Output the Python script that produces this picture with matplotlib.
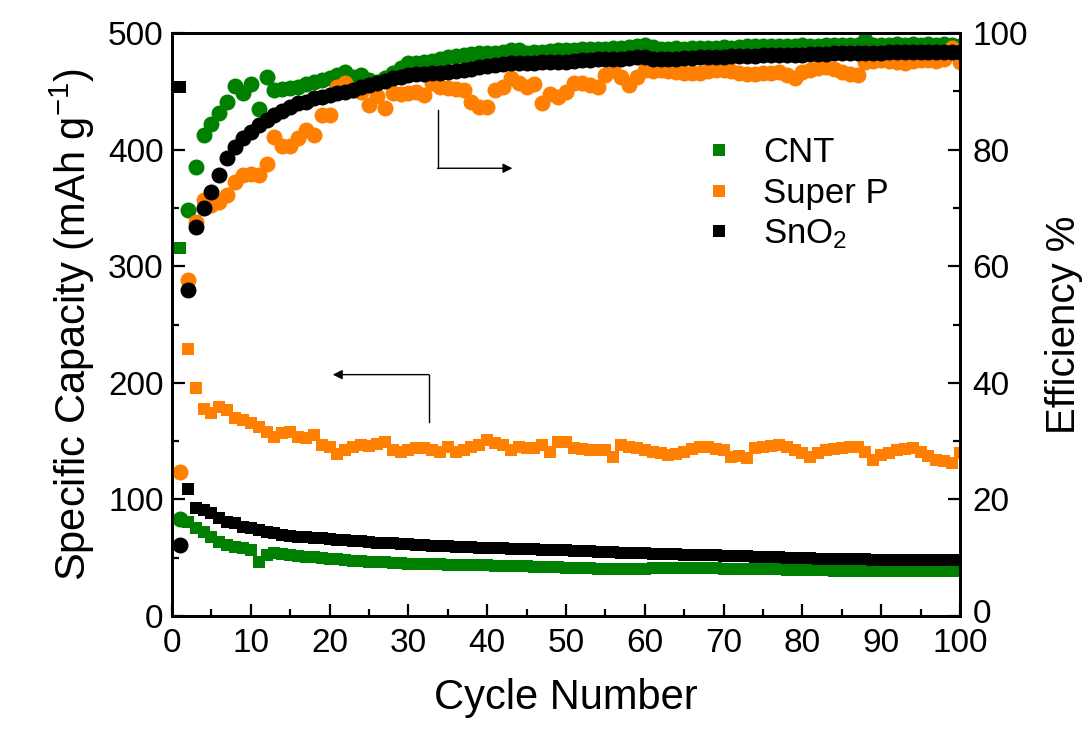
import numpy as np
import matplotlib
matplotlib.use("Agg")
import matplotlib.pyplot as plt
import matplotlib.transforms as mtransforms
from matplotlib import font_manager

# ---------------- data ----------------
cycles = np.arange(1, 101)

cap_cnt = [315.6, 80.6, 75.5, 72.0, 67.8, 63.5, 61.0, 59.0, 58.3, 56.6,
           46.3, 52.3, 54.0, 53.0, 52.3, 51.5, 51.0, 50.6, 50.0, 49.0,
           48.5, 48.0, 47.5, 47.0, 46.5, 46.3, 46.0, 45.5, 45.2, 45.0,
           44.8, 44.6, 44.4, 44.2, 44.0, 43.9, 43.8, 43.7, 43.6, 43.5,
           43.3, 43.1, 42.9, 42.7, 42.5, 42.3, 42.1, 41.9, 41.7, 41.5,
           41.3, 41.1, 40.9, 40.7, 40.5, 40.3, 40.1, 40.0, 40.3, 40.6,
           40.8, 41.0, 41.1, 41.2, 41.2, 41.1, 41.0, 40.9, 40.8, 40.7,
           40.6, 40.5, 40.4, 40.3, 40.2, 40.1, 40.0, 39.8, 39.6, 39.4,
           39.3, 39.2, 39.1, 39.0, 38.9, 38.8, 38.7, 38.6, 38.5, 38.5,
           38.5, 38.5, 38.4, 38.4, 38.4, 38.3, 38.3, 38.3, 38.3, 38.3]

cap_superp = [np.nan, 229.0, 195.5, 177.5, 174.0, 179.0, 176.7, 170.0, 168.0, 165.5,
              162.0, 158.0, 153.5, 157.0, 158.0, 153.5, 152.5, 155.0, 146.6, 145.0,
              139.0, 142.0, 145.0, 146.6, 145.8, 147.5, 149.0, 142.0, 140.6, 142.0,
              144.0, 144.0, 142.0, 140.6, 145.0, 140.6, 142.0, 145.0, 147.0, 151.0,
              148.0, 146.6, 142.0, 145.0, 144.0, 144.0, 146.6, 140.6, 149.0, 149.0,
              144.0, 143.0, 142.0, 142.0, 142.0, 136.0, 146.6, 145.0, 144.0, 142.0,
              141.0, 140.0, 138.0, 139.0, 140.6, 143.0, 145.0, 145.0, 143.0, 142.0,
              136.0, 137.0, 135.5, 144.0, 145.0, 146.0, 146.6, 145.0, 142.0, 140.0,
              136.0, 140.0, 142.0, 143.0, 144.0, 145.0, 145.0, 140.6, 134.0, 138.0,
              140.0, 142.0, 143.0, 144.0, 140.6, 137.0, 134.0, 133.0, 131.0, 140.0]

cap_sno2 = [454.0, 109.0, 92.6, 91.0, 88.0, 84.0, 80.6, 79.8, 76.3, 75.5,
            73.8, 72.0, 71.2, 69.5, 69.0, 68.0, 67.8, 67.0, 66.5, 66.0,
            65.5, 65.0, 64.5, 64.0, 63.5, 63.0, 62.6, 62.2, 61.8, 61.4,
            61.0, 60.7, 60.4, 60.1, 59.8, 59.5, 59.2, 58.9, 58.6, 58.3,
            58.1, 57.9, 57.7, 57.5, 57.3, 57.1, 56.9, 56.7, 56.5, 56.3,
            56.0, 55.7, 55.4, 55.1, 54.8, 54.5, 54.3, 54.1, 53.9, 53.7,
            53.5, 53.3, 53.1, 52.9, 52.7, 52.5, 52.3, 52.1, 51.9, 51.7,
            51.5, 51.3, 51.1, 50.9, 50.7, 50.5, 50.3, 50.1, 49.9, 49.7,
            49.5, 49.3, 49.1, 48.9, 48.8, 48.7, 48.6, 48.5, 48.4, 48.3,
            48.2, 48.1, 48.0, 48.0, 47.9, 47.9, 47.8, 47.8, 47.7, 47.7]

eff_cnt = [16.6, 69.6, 77.0, 82.5, 84.4, 86.3, 88.2, 90.9, 89.7, 91.3,
           87.0, 92.5, 90.2, 90.4, 90.6, 90.8, 91.2, 91.6, 92.0, 92.3,
           92.8, 93.3, 92.5, 92.8, 92.0, 91.6, 92.3, 93.1, 94.0, 94.9,
           94.9, 95.0, 95.2, 95.5, 95.9, 96.0, 96.2, 96.4, 96.6, 96.6,
           96.6, 96.8, 97.1, 97.0, 96.6, 96.7, 96.8, 96.9, 97.0, 97.1,
           97.1, 97.2, 97.2, 97.3, 97.3, 97.4, 97.5, 97.6, 97.7, 97.9,
           97.6, 97.3, 97.3, 97.4, 97.3, 97.4, 97.4, 97.5, 97.5, 97.6,
           97.5, 97.6, 97.7, 97.7, 97.8, 97.7, 97.8, 97.8, 97.8, 97.9,
           97.8, 97.8, 97.9, 97.9, 97.9, 97.9, 98.0, 98.8, 97.9, 98.0,
           98.0, 98.1, 98.0, 98.1, 98.0, 98.1, 98.0, 98.1, 98.0, 97.8]

eff_superp = [24.7, 57.6, 67.5, 71.4, 70.5, 71.0, 72.2, 74.4, 75.6, 75.8,
              75.6, 77.5, 82.2, 80.6, 80.6, 82.0, 83.4, 82.5, 85.9, 85.9,
              90.7, 91.4, 90.3, 89.8, 87.6, 89.2, 87.1, 89.7, 89.5, 89.7,
              89.9, 89.4, 91.4, 90.8, 90.5, 90.4, 90.2, 88.2, 87.3, 87.3,
              90.2, 90.7, 92.3, 91.5, 90.7, 91.2, 88.0, 89.5, 89.0, 89.9,
              91.4, 91.4, 91.0, 90.7, 92.8, 93.7, 92.5, 91.1, 92.5, 93.7,
              93.5, 93.7, 93.4, 93.3, 93.2, 93.2, 93.1, 93.5, 93.7, 93.7,
              93.4, 93.1, 93.0, 93.0, 93.1, 93.2, 93.3, 92.8, 92.3, 93.3,
              93.7, 94.0, 94.2, 93.8, 93.3, 93.0, 92.8, 95.0, 95.2, 95.4,
              95.2, 95.0, 94.9, 95.2, 95.4, 95.4, 95.2, 95.6, 97.4, 95.0]

eff_sno2 = [12.2, 55.9, 66.7, 70.0, 72.7, 75.6, 78.6, 80.4, 82.0, 83.0,
            84.2, 85.1, 85.9, 86.6, 87.3, 88.0, 88.2, 88.9, 89.0, 89.3,
            89.7, 89.9, 90.3, 90.7, 91.0, 91.4, 91.8, 92.2, 92.5, 92.8,
            92.9, 93.0, 93.1, 93.2, 93.3, 93.5, 93.7, 93.9, 94.2, 94.3,
            94.5, 94.7, 94.9, 94.9, 94.9, 94.9, 95.0, 95.0, 95.0, 95.1,
            95.2, 95.3, 95.4, 95.5, 95.5, 95.6, 95.6, 95.7, 95.8, 95.9,
            95.5, 95.5, 95.6, 95.6, 95.7, 95.7, 95.8, 95.8, 95.9, 95.9,
            96.0, 96.0, 96.1, 96.1, 96.2, 96.2, 96.2, 96.3, 96.3, 96.3,
            96.4, 96.4, 96.4, 96.5, 96.5, 96.5, 96.6, 96.6, 96.6, 96.6,
            96.7, 96.7, 96.7, 96.7, 96.7, 96.8, 96.8, 96.8, 96.8, 96.8]

labels = ["CNT", "Super P", "SnO$_2$"]
colors = ["#008000", "#FF8000", "#000000"]

x_ticks = np.arange(0, 101, 10)
cap_ticks = np.arange(0, 501, 100)
eff_ticks = np.arange(0, 101, 20)

# ---------------- style ----------------
installed = {f.name for f in font_manager.fontManager.ttflist}
base_font = "Liberation Sans Narrow" if "Liberation Sans Narrow" in installed else "Liberation Sans"
plt.rcParams["font.family"] = [base_font, "DejaVu Sans"]
plt.rcParams["mathtext.fontset"] = "custom"
plt.rcParams["mathtext.rm"] = base_font
plt.rcParams["mathtext.it"] = base_font
plt.rcParams["mathtext.default"] = "regular"

fig = plt.figure(figsize=(10.91, 7.33), dpi=100)
ax = fig.add_axes([172 / 1091, 1 - 616 / 733, (960 - 172) / 1091, (616 - 33) / 733])
ax2 = ax.twinx()

sq_size = 9.2
ci_size = 11.5

for cap, c in zip([cap_cnt, cap_superp, cap_sno2], colors):
    ax.plot(cycles, cap, linestyle="none", marker="s", ms=sq_size,
            mfc=c, mec=c, mew=0)
for eff, c in zip([eff_cnt, eff_superp, eff_sno2], colors):
    ax2.plot(cycles, eff, linestyle="none", marker="o", ms=ci_size,
             mfc=c, mec=c, mew=0)

ax.set_xlim(0, 100)
ax.set_ylim(0, 500)
ax2.set_ylim(0, 100)

ax.set_xticks(x_ticks)
ax.set_xticks(np.arange(5, 100, 10), minor=True)
ax.set_yticks(cap_ticks)
ax.set_yticks(np.arange(50, 500, 100), minor=True)
ax2.set_yticks(eff_ticks)
ax2.set_yticks(np.arange(10, 100, 20), minor=True)

tick_fs = 24
for a in (ax, ax2):
    a.tick_params(which="major", direction="in", length=9, width=1.6, labelsize=tick_fs, pad=6)
    a.tick_params(which="minor", direction="in", length=5, width=1.6)
    for s in a.spines.values():
        s.set_linewidth(2.0)
ax.tick_params(top=False, right=False)
ax.tick_params(which="minor", top=False, right=False)
ax.tick_params(axis="x", which="major", pad=9)
ax2.tick_params(axis="y", which="both", left=False, right=True)
ax2.tick_params(axis="y", which="major", pad=9)

# lift the right-hand "0" a little so it clears the "100" below it
fig.canvas.draw()
zero_label = ax2.get_yticklabels()[0]
zero_label.set_transform(zero_label.get_transform() +
                         mtransforms.ScaledTranslation(0, 5 / 100, fig.dpi_scale_trans))

ax.set_xlabel("Cycle Number", fontsize=30, labelpad=13)
ax.set_ylabel("Specific Capacity (mAh g$^{-1}$)", fontsize=30, labelpad=8)
ax2.set_ylabel("Efficiency %", fontsize=29, labelpad=12)

# guide arrows pointing each family of markers to its axis
ax.plot([33.7, 33.7], [434, 384], color="black", lw=1.0)
ax.annotate("", xy=(43.2, 384), xytext=(33.7, 384),
            arrowprops=dict(arrowstyle="-|>", color="black", lw=1.0,
                            mutation_scale=14, shrinkA=0, shrinkB=0))
ax.plot([32.6, 32.6], [166, 207], color="black", lw=1.0)
ax.annotate("", xy=(20.4, 207), xytext=(32.6, 207),
            arrowprops=dict(arrowstyle="-|>", color="black", lw=1.0,
                            mutation_scale=14, shrinkA=0, shrinkB=0))

handles = [plt.Line2D([], [], linestyle="none", marker="s", ms=8.6, mfc=c, mec=c, mew=0)
           for c in colors]
ax2.legend(handles, labels, loc="upper left", bbox_to_anchor=(0.655, 0.847),
           frameon=False, fontsize=25, handlelength=1.0, handletextpad=0.75,
           labelspacing=0.22, borderaxespad=0)

fig.savefig("out.png", dpi=100)
